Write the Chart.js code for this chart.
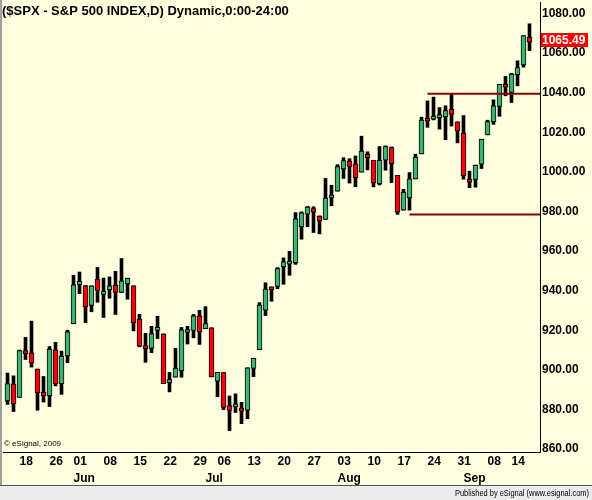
<!DOCTYPE html>
<html>
<head>
<meta charset="utf-8">
<script src="https://cdn.jsdelivr.net/npm/chart.js@4.4.1/dist/chart.umd.min.js"></script>
<style>
    html, body { margin: 0; padding: 0; background: #ffffe0; }
    #wrap { width: 592px; height: 500px; }
</style>
</head>
<body>
<div id="wrap"><canvas id="chart" width="592" height="500"></canvas></div>
<script>
// $SPX daily candles, 14 May - 17 Sep 2009
const dates = [
    '2009-05-14','2009-05-15','2009-05-18','2009-05-19','2009-05-20','2009-05-21','2009-05-22','2009-05-26','2009-05-27','2009-05-28','2009-05-29',
    '2009-06-01','2009-06-02','2009-06-03','2009-06-04','2009-06-05','2009-06-08','2009-06-09','2009-06-10','2009-06-11','2009-06-12',
    '2009-06-15','2009-06-16','2009-06-17','2009-06-18','2009-06-19','2009-06-22','2009-06-23','2009-06-24','2009-06-25','2009-06-26','2009-06-29','2009-06-30',
    '2009-07-01','2009-07-02','2009-07-06','2009-07-07','2009-07-08','2009-07-09','2009-07-10','2009-07-13','2009-07-14','2009-07-15','2009-07-16','2009-07-17',
    '2009-07-20','2009-07-21','2009-07-22','2009-07-23','2009-07-24','2009-07-27','2009-07-28','2009-07-29','2009-07-30','2009-07-31',
    '2009-08-03','2009-08-04','2009-08-05','2009-08-06','2009-08-07','2009-08-10','2009-08-11','2009-08-12','2009-08-13','2009-08-14',
    '2009-08-17','2009-08-18','2009-08-19','2009-08-20','2009-08-21','2009-08-24','2009-08-25','2009-08-26','2009-08-27','2009-08-28','2009-08-31',
    '2009-09-01','2009-09-02','2009-09-03','2009-09-04','2009-09-08','2009-09-09','2009-09-10','2009-09-11','2009-09-14','2009-09-15','2009-09-16','2009-09-17'
];
const opens = [
    884.24, 892.76, 886.07, 909.67, 908.62, 900.42, 888.68, 887.00, 909.95, 892.96, 907.02,
    923.26, 942.87, 942.51, 932.49, 945.67, 938.12, 940.35, 942.73, 939.04, 943.44,
    942.45, 925.60, 911.89, 910.86, 919.96, 918.13, 893.46, 896.31, 899.45, 918.84, 919.86, 927.15,
    920.82, 921.24, 894.27, 898.60, 881.90, 881.28, 880.03, 879.57, 900.77, 910.15, 930.17, 940.56,
    942.07, 951.97, 953.40, 954.07, 972.16, 978.63, 981.48, 977.66, 976.01, 986.80,
    990.22, 1001.41, 1005.41, 1004.06, 999.83, 1008.89, 1005.77, 994.00, 1005.86, 1012.23,
    998.18, 980.62, 986.88, 996.41, 1009.06, 1026.59, 1026.63, 1027.35, 1027.81, 1031.62, 1025.21,
    1019.52, 996.07, 996.12, 1003.84, 1018.67, 1025.36, 1032.99, 1043.92, 1040.15, 1049.03, 1053.99, 1067.87
];
const highs = [
    898.36, 896.97, 910.00, 916.39, 924.60, 900.42, 896.65, 911.76, 913.84, 909.45, 920.02,
    947.77, 949.38, 942.51, 942.47, 951.69, 946.33, 946.92, 949.77, 956.23, 946.30,
    942.45, 928.00, 918.44, 922.00, 927.09, 918.13, 898.69, 910.85, 921.42, 922.00, 927.99, 930.01,
    931.92, 921.24, 898.72, 898.60, 886.80, 887.86, 883.57, 901.05, 905.84, 933.95, 943.96, 941.89,
    951.62, 956.53, 959.83, 979.42, 979.79, 982.49, 982.35, 977.76, 996.68, 993.18,
    1003.61, 1007.12, 1006.64, 1008.00, 1018.00, 1010.12, 1005.77, 1012.78, 1013.14, 1012.60,
    998.18, 991.20, 999.61, 1008.92, 1027.59, 1035.82, 1037.75, 1032.47, 1033.33, 1039.47, 1025.21,
    1028.45, 1000.34, 1003.43, 1016.48, 1026.07, 1036.34, 1044.14, 1048.18, 1049.74, 1056.04, 1068.76, 1074.77
];
const lows = [
    882.52, 878.94, 886.07, 905.22, 901.37, 879.61, 883.75, 881.46, 891.87, 887.60, 903.56,
    923.26, 938.46, 923.85, 929.32, 934.13, 926.44, 936.15, 927.97, 939.04, 935.66,
    919.65, 911.60, 903.78, 908.68, 915.80, 893.04, 888.86, 896.31, 896.27, 913.03, 916.18, 912.86,
    920.82, 896.42, 886.36, 879.93, 869.32, 878.45, 872.81, 875.32, 896.50, 910.15, 927.45, 934.65,
    940.99, 943.22, 947.75, 953.27, 965.95, 972.29, 969.35, 968.65, 976.01, 982.85,
    990.22, 996.68, 994.31, 992.49, 999.83, 1000.99, 992.40, 993.36, 1000.82, 994.60,
    978.51, 980.62, 980.62, 996.39, 1009.06, 1022.48, 1026.21, 1021.57, 1016.20, 1023.13, 1014.62,
    996.28, 991.97, 992.25, 1001.65, 1018.67, 1023.97, 1028.04, 1038.40, 1035.00, 1043.42, 1052.87, 1061.20
];
const closes = [
    893.07, 882.88, 909.71, 908.13, 903.47, 888.33, 887.00, 910.33, 893.06, 906.83, 919.14,
    942.87, 944.74, 931.76, 942.46, 940.09, 939.14, 942.43, 939.15, 944.89, 946.21,
    923.72, 911.97, 910.71, 918.37, 921.23, 893.04, 895.10, 900.94, 920.26, 918.90, 927.23, 919.32,
    923.33, 896.42, 898.72, 881.03, 879.56, 882.68, 879.13, 901.05, 905.84, 932.68, 940.74, 940.38,
    951.13, 954.58, 954.07, 976.29, 979.26, 982.18, 979.62, 975.15, 986.75, 987.48,
    1002.63, 1005.65, 1002.72, 997.08, 1010.48, 1007.10, 994.35, 1005.81, 1012.73, 1004.09,
    979.73, 989.67, 996.46, 1007.37, 1026.13, 1025.57, 1028.00, 1028.12, 1030.98, 1028.93, 1020.62,
    998.04, 994.75, 1003.24, 1016.40, 1025.39, 1033.37, 1044.14, 1042.73, 1049.34, 1052.63, 1068.76, 1065.49
];

// Price axis ticks and the two drawn horizontal levels
const priceTicks = [860, 880, 900, 920, 940, 960, 980, 1000, 1020, 1040, 1060, 1080];
const levelValues = [1039.47, 978.51];
const levelStarts = [70, 67];   // bar index where each line starts
const monthNames = ['Jan','Feb','Mar','Apr','May','Jun','Jul','Aug','Sep','Oct','Nov','Dec'];

const X_MIN = -0.75, X_MAX = 88.75;
const Y_MIN = 858.5, Y_MAX = 1085.77;
const BG = '#ffffe0';
const UP = '#3cb371';
const DOWN = '#ff0000';
const FONT = '"Liberation Sans", Arial, sans-serif';

// x labels: first trading day of each week, month name on first day of month
const xTickLabels = {};
dates.forEach((d, i) => {
    if (i === 0) return;
    const cur = new Date(d + 'T00:00:00');
    const prev = new Date(dates[i - 1] + 'T00:00:00');
    const weekStart = cur.getDay() < prev.getDay();
    const monthStart = cur.getMonth() !== prev.getMonth();
    if (!weekStart && !monthStart) return;
    const day = weekStart ? d.slice(8, 10) : '';
    xTickLabels[i] = monthStart ? [day, monthNames[cur.getMonth()]] : day;
});
const xTickIdx = Object.keys(xTickLabels).map(Number).sort((a, b) => a - b);

const bodies = dates.map((d, i) => ({ x: i, y: [opens[i], closes[i]] }));
const wicks = dates.map((d, i) => ({ x: i, y: [lows[i], highs[i]] }));
const bodyColors = dates.map((d, i) => closes[i] >= opens[i] ? UP : DOWN);

// Background, frame and free texts
const chrome = {
    id: 'chrome',
    beforeDraw(chart) {
        const ctx = chart.ctx;
        ctx.save();
        ctx.fillStyle = BG;
        ctx.fillRect(0, 0, chart.width, chart.height);
        ctx.fillStyle = '#ebebeb';
        ctx.fillRect(0, 486, chart.width, 14);
        ctx.fillStyle = '#555555';
        ctx.fillRect(0, 485, chart.width, 1);
        ctx.fillStyle = '#a0a0a0';
        ctx.fillRect(0, 0, 2, 485);
        ctx.restore();
    },
    afterDraw(chart) {
        const ctx = chart.ctx;
        const area = chart.chartArea;
        ctx.save();
        ctx.fillStyle = '#000';
        ctx.textBaseline = 'alphabetic';
        ctx.textAlign = 'left';
        ctx.font = 'bold 13px ' + FONT;
        ctx.fillText('($SPX - S&P 500 INDEX,D) Dynamic,0:00-24:00', 2, 15);
        ctx.font = '8px ' + FONT;
        ctx.fillText('\u00a9 eSignal, 2009', 4, 446);
        ctx.font = '9px ' + FONT;
        ctx.textAlign = 'right';
        ctx.fillText('Published by eSignal (www.esignal.com)', 589, 496, 134);

        // last price tag
        const last = closes[closes.length - 1];
        const py = chart.scales.y.getPixelForValue(last) - 2;
        ctx.fillStyle = '#ff0000';
        ctx.fillRect(area.right + 1, Math.round(py - 7), 47, 14);
        ctx.fillStyle = '#ffffff';
        ctx.textAlign = 'left';
        ctx.textBaseline = 'middle';
        ctx.font = 'bold 12px ' + FONT;
        ctx.fillText(last.toFixed(2), area.right + 2, Math.round(py) + 0.5);
        ctx.restore();
    }
};

const levelSets = levelValues.map((v, k) => ({
    type: 'line',
    data: [{ x: levelStarts[k], y: v }, { x: X_MAX, y: v }],
    borderColor: '#8b0000',
    borderWidth: 2,
    pointRadius: 0,
    fill: false
}));

new Chart(document.getElementById('chart'), {
    type: 'bar',
    data: {
        datasets: [
            ...levelSets,
            {
                data: bodies,
                backgroundColor: bodyColors,
                borderColor: '#000',
                borderWidth: 1,
                borderSkipped: false,
                grouped: false,
                barPercentage: 1,
                categoryPercentage: 1,
                maxBarThickness: 5,
                minBarLength: 3
            },
            {
                data: wicks,
                backgroundColor: '#000',
                borderWidth: 0,
                grouped: false,
                barPercentage: 1,
                categoryPercentage: 1,
                maxBarThickness: 3
            }
        ]
    },
    options: {
        responsive: false,
        animation: false,
        devicePixelRatio: 1,
        layout: { padding: { left: 3, top: 2, right: 0, bottom: 14 } },
        plugins: {
            legend: { display: false },
            tooltip: { enabled: false }
        },
        scales: {
            x: {
                type: 'linear',
                min: X_MIN,
                max: X_MAX,
                bounds: 'data',
                offset: false,
                grid: { display: false, drawTicks: false },
                border: { display: true, color: '#000', width: 1 },
                afterBuildTicks: s => { s.ticks = xTickIdx.map(v => ({ value: v })); },
                afterFit: s => { s.height = 34; s.paddingLeft = 0; s.paddingRight = 0; },
                ticks: {
                    autoSkip: false,
                    maxRotation: 0,
                    minRotation: 0,
                    align: 'start',
                    padding: 1,
                    color: '#000',
                    font: { family: FONT, size: 12, weight: 'bold', lineHeight: 1.4 },
                    callback: v => xTickLabels[v] ?? ''
                }
            },
            y: {
                position: 'right',
                min: Y_MIN,
                max: Y_MAX,
                grid: { display: false, drawTicks: false },
                border: { display: true, color: '#000', width: 1 },
                afterBuildTicks: s => { s.ticks = priceTicks.map(v => ({ value: v })); },
                afterFit: s => { s.width = 52; s.paddingTop = 0; s.paddingBottom = 0; },
                ticks: {
                    padding: 2,
                    color: '#000',
                    font: { family: FONT, size: 12, weight: 'bold' },
                    callback: v => Number(v).toFixed(2)
                }
            }
        }
    },
    plugins: [chrome]
});
</script>
</body>
</html>
